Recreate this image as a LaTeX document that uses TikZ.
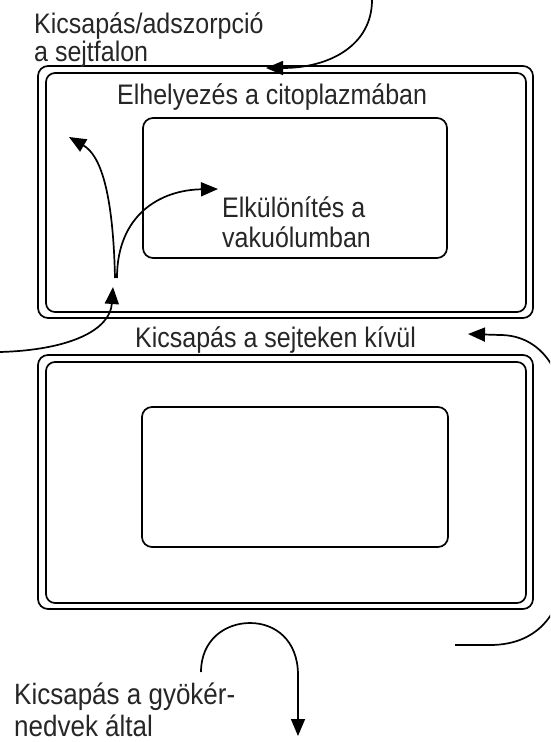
\documentclass[tikz,border=0pt]{standalone}
\usepackage{fontspec}
\setmainfont{Liberation Sans}
\usetikzlibrary{arrows.meta}
\newcommand\tallt[1]{\scalebox{1}[1.13]{#1}}
\begin{document}
\begin{tikzpicture}[x=1pt,y=-1pt,
  lbl/.style={font=\fontsize{25}{28}\selectfont, text=black!85, inner sep=0pt, anchor=base west},
  biglbl/.style={lbl, font=\fontsize{26}{30}\selectfont},
  frame/.style={draw, line width=1.7pt, rounded corners=10pt, inner sep=0pt},
  arr/.style={line width=1.7pt, -{Triangle[length=17pt,width=14pt]}}]
\useasboundingbox (0,0) rectangle (550,742);
\clip (0,0) rectangle (550,742);
% top cell
\node[frame, minimum width=495pt, minimum height=252pt] (topouter) at (285.5,192) {};
\node[frame, rounded corners=9pt, minimum width=480pt, minimum height=239pt] (topinner) at (286,192.5) {};
\node[frame, minimum width=304pt, minimum height=140pt] (topvac) at (295,188) {};
% bottom cell
\node[frame, minimum width=495pt, minimum height=254pt] (botouter) at (285.5,482) {};
\node[frame, rounded corners=9pt, minimum width=480pt, minimum height=241pt] (botinner) at (286,482.5) {};
\node[frame, minimum width=306pt, minimum height=140pt] (botvac) at (295,477) {};
% labels
\node[lbl] (t1) at (34,33) {\tallt{Kicsapás/adszorpció}};
\node[lbl] (t2) at (34,61) {\tallt{a sejtfalon}};
\node[lbl] (t3) at (117,104) {\tallt{Elhelyezés a citoplazmában}};
\node[lbl] (t4) at (222,217) {\tallt{Elkülönítés a}};
\node[lbl] (t5) at (222,247) {\tallt{vakuólumban}};
\node[lbl] (t6) at (135,347) {\tallt{Kicsapás a sejteken kívül}};
\node[biglbl] (t7) at (14,704) {\tallt{Kicsapás a gyökér-}};
\node[biglbl] (t8) at (14,736) {\tallt{nedvek által}};
% connector end points
\coordinate (a1s) at (372,0);
\coordinate (a1e) at (266,68);
\coordinate (a2s) at (0,352);
\coordinate (a2e) at (113,287);
\coordinate (a3s) at (115,278);
\coordinate (a3e) at (69,137);
\coordinate (a4s) at (117,278);
\coordinate (a4e) at (218,189);
\coordinate (a5s) at (455,645);
\coordinate (a5e) at (468,334);
\coordinate (a6s) at (201,672);
\coordinate (a6e) at (298,736);
% connectors
\draw[arr] (a1s) .. controls (372,45) and (330,68) .. (a1e);
\draw[arr] (a2s) .. controls (70,350) and (110,330) .. (a2e);
\draw[arr] (a3s) .. controls (113,190) and (100,155) .. (a3e);
\draw[arr] (a4s) .. controls (117,215) and (160,190) .. (a4e);
\draw[arr] (a5s) -- (490,645) .. controls (540,645) and (565,610) .. (565,560) -- (565,420) .. controls (565,370) and (540,335) .. (500,335) -- (a5e);
\draw[arr] (a6s) .. controls (201,640) and (225,623) .. (250,623) .. controls (275,623) and (298,640) .. (298,675) -- (a6e);
\end{tikzpicture}
\end{document}
